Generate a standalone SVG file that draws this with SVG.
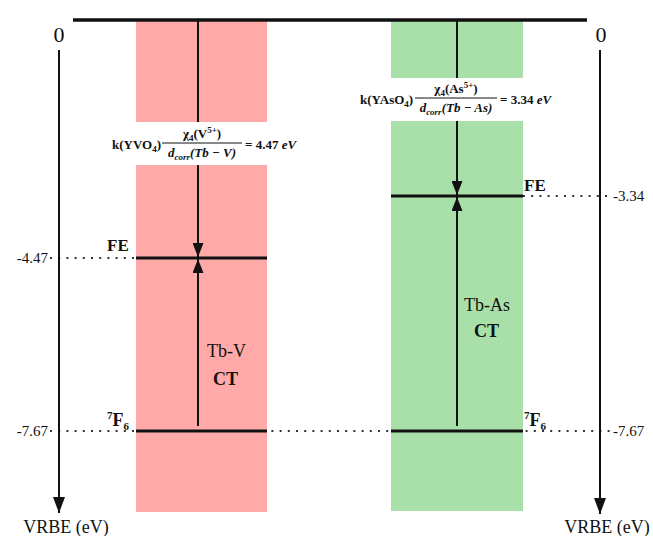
<svg xmlns="http://www.w3.org/2000/svg" width="653" height="536" viewBox="0 0 653 536">
<defs>
<style>
.t{font-family:"Liberation Serif","Times New Roman",serif;fill:#111}
.b{font-weight:bold}
.i{font-style:italic}
.lvl{stroke:#111;stroke-width:3}
.dot{stroke:#333;stroke-width:2;stroke-dasharray:2 6.2;fill:none}
.ln{stroke:#111;stroke-width:2;fill:none}
.red{fill:#ffa9a9}
.grn{fill:#a9dfa9}
</style>
<marker id="ah" viewBox="0 0 14 11" refX="14" refY="5.5" markerWidth="14" markerHeight="11" markerUnits="userSpaceOnUse" orient="auto">
<path d="M0,0 L14,5.5 L0,11 z" fill="#111"/>
</marker>
<marker id="axh" viewBox="0 0 16 12" refX="16" refY="6" markerWidth="16" markerHeight="12" markerUnits="userSpaceOnUse" orient="auto">
<path d="M0,0 L16,6 L0,12 z" fill="#111"/>
</marker>
</defs>
<rect width="653" height="536" fill="#fff"/>

<g id="red-column">
<rect class="red" x="136" y="21" width="131" height="101"/>
<rect class="red" x="136" y="165" width="131" height="347"/>
</g>
<g id="green-column">
<rect class="grn" x="391" y="21" width="132" height="57"/>
<rect class="grn" x="391" y="121" width="132" height="390"/>
</g>

<g id="dotted-guides">
<line class="dot" x1="50" y1="258" x2="136" y2="258"/>
<line class="dot" x1="523" y1="196" x2="610" y2="196"/>
<line class="dot" x1="50" y1="431" x2="610" y2="431"/>
</g>

<g id="vacuum-level">
<line x1="73" y1="20" x2="587" y2="20" stroke="#111" stroke-width="3.5"/>
<text class="t" x="59" y="42" font-size="22" text-anchor="middle">0</text>
<text class="t" x="601" y="42" font-size="22" text-anchor="middle">0</text>
</g>

<g id="left-axis">
<line class="ln" x1="59" y1="50" x2="59" y2="513" stroke-width="2.5" marker-end="url(#axh)"/>
<text class="t" x="66" y="533" font-size="18" text-anchor="middle">VRBE (eV)</text>
<text class="t" x="48" y="263" font-size="15" text-anchor="end">-4.47</text>
<text class="t" x="48" y="436" font-size="15" text-anchor="end">-7.67</text>
</g>
<g id="right-axis">
<line class="ln" x1="600" y1="50" x2="600" y2="514" stroke-width="2.5" marker-end="url(#axh)"/>
<text class="t" x="607" y="533" font-size="18" text-anchor="middle">VRBE (eV)</text>
<text class="t" x="613" y="201" font-size="15">-3.34</text>
<text class="t" x="613" y="436" font-size="15">-7.67</text>
</g>

<g id="YVO4-levels">
<line class="lvl" x1="136" y1="258" x2="267" y2="258"/>
<line class="lvl" x1="136" y1="431" x2="267" y2="431"/>
<text class="t b" x="107" y="251" font-size="17">FE</text>
<text class="t b" x="107" y="426" font-size="18"><tspan font-size="11" dy="-7">7</tspan><tspan dy="7">F</tspan><tspan font-size="11" dy="4">6</tspan></text>
<text class="t" x="207" y="357" font-size="18">Tb-V</text>
<text class="t b" x="213" y="385" font-size="18">CT</text>
</g>

<g id="YAsO4-levels">
<line class="lvl" x1="391" y1="196" x2="523" y2="196"/>
<line class="lvl" x1="391" y1="431" x2="523" y2="431"/>
<text class="t b" x="524" y="191" font-size="17">FE</text>
<text class="t b" x="524" y="426" font-size="18"><tspan font-size="11" dy="-7">7</tspan><tspan dy="7">F</tspan><tspan font-size="11" dy="4">6</tspan></text>
<text class="t" x="464" y="311" font-size="18">Tb-As</text>
<text class="t b" x="474" y="337" font-size="18">CT</text>
</g>

<g id="formula-YVO4" class="t b" font-size="13">
<text x="112" y="149">k(YVO<tspan font-size="9" dy="3">4</tspan><tspan dy="-3">)</tspan></text>
<text x="202" y="138" text-anchor="middle">χ<tspan font-size="9" dy="3">4</tspan><tspan dy="-3">(V</tspan><tspan font-size="9" dy="-5">5+</tspan><tspan dy="5">)</tspan></text>
<line x1="162" y1="143" x2="242" y2="143" stroke="#111" stroke-width="1"/>
<text x="202" y="157" text-anchor="middle" font-style="italic">d<tspan font-size="9" dy="3">corr</tspan><tspan dy="-3">(Tb − V)</tspan></text>
<text x="245" y="149">= 4.47 <tspan font-style="italic">eV</tspan></text>
</g>

<g id="formula-YAsO4" class="t b" font-size="13">
<text x="360" y="104">k(YAsO<tspan font-size="9" dy="3">4</tspan><tspan dy="-3">)</tspan></text>
<text x="456" y="93" text-anchor="middle">χ<tspan font-size="9" dy="3">4</tspan><tspan dy="-3">(As</tspan><tspan font-size="9" dy="-5">5+</tspan><tspan dy="5">)</tspan></text>
<line x1="415" y1="98" x2="497" y2="98" stroke="#111" stroke-width="1"/>
<text x="456" y="112" text-anchor="middle" font-style="italic">d<tspan font-size="9" dy="3">corr</tspan><tspan dy="-3">(Tb − As)</tspan></text>
<text x="500" y="104">= 3.34 <tspan font-style="italic">eV</tspan></text>
</g>

<g id="connectors">
<line class="ln" x1="198" y1="20" x2="198" y2="122"/>
<line class="ln" x1="198" y1="165" x2="198" y2="257" marker-end="url(#ah)"/>
<line class="ln" x1="198" y1="426" x2="198" y2="259" marker-end="url(#ah)"/>
<line class="ln" x1="457" y1="20" x2="457" y2="78"/>
<line class="ln" x1="457" y1="121" x2="457" y2="195" marker-end="url(#ah)"/>
<line class="ln" x1="457" y1="426" x2="457" y2="197" marker-end="url(#ah)"/>
</g>
</svg>
